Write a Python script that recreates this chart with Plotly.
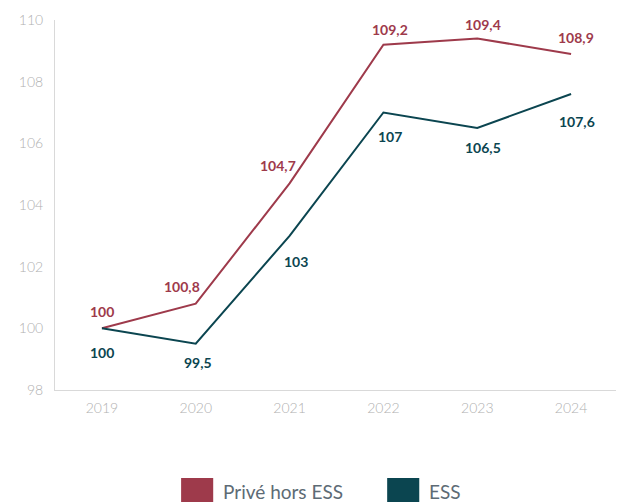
import plotly.graph_objects as go

years = ["2019", "2020", "2021", "2022", "2023", "2024"]
prive = [100, 100.8, 104.7, 109.2, 109.4, 108.9]
ess = [100, 99.5, 103, 107, 106.5, 107.6]
series_names = ["Privé hors ESS", "ESS"]

red = "#9e3a4b"
teal = "#0b4550"

# label offsets in px (style only)
prive_dx = [0, -14, -12, 7, 6, 5]
prive_dy = [17, 17, 18, 15, 14, 16]
ess_dx = [0, 2, 6, 7, 6, 6]
ess_dy = [-24, -19, -26, -24, -20, -27]


def fr(v):
    # French decimal comma
    return f"{v:g}".replace(".", ",")


fig = go.Figure()

for vals, col, name, dxs, dys in [(prive, red, series_names[0], prive_dx, prive_dy),
                                  (ess, teal, series_names[1], ess_dx, ess_dy)]:
    fig.add_trace(go.Scatter(x=years, y=vals, mode="lines", name=name,
                             line=dict(color=col, width=2), showlegend=False))
    # category index for annotation x (string years would be read as numbers)
    for i, (v, dx, dy) in enumerate(zip(vals, dxs, dys)):
        fig.add_annotation(x=i, y=v, xref="x", yref="y", text=fr(v), showarrow=False,
                           xshift=dx, yshift=dy,
                           font=dict(family="Lato", size=14, color=col, weight="bold"))

# legend drawn by hand (big square swatches)
legend_x = [0.224, 0.590]
for name, col, lx in zip(series_names, [red, teal], legend_x):
    fig.add_shape(type="rect", xref="paper", yref="paper",
                  x0=lx, x1=lx + 0.057, y0=-0.303, y1=-0.238,
                  fillcolor=col, line_width=0)
    fig.add_annotation(xref="paper", yref="paper", x=lx + 0.071, y=-0.273,
                       text=name, showarrow=False, xanchor="left", yanchor="middle",
                       font=dict(family="Lato", size=19, color="#5d6b75"))

# page body has an 8px margin, so the figure is shrunk/shifted to compensate
fig.update_layout(
    width=616, height=495,
    margin=dict(l=47, r=6, t=12, b=113),
    plot_bgcolor="white", paper_bgcolor="white",
    font=dict(family="Lato"),
    xaxis=dict(type="category", range=[-0.5, 5.5], showline=True, linecolor="#d9d9d9",
               linewidth=1, showgrid=False, ticks="", automargin=False,
               ticklabelstandoff=5,
               tickfont=dict(family="Lato", size=14, color="#b0b0b0", weight=300)),
    yaxis=dict(range=[98, 110], dtick=2, showline=True, linecolor="#d9d9d9",
               linewidth=1, showgrid=False, zeroline=False, ticks="", automargin=False,
               ticklabelstandoff=8,
               tickfont=dict(family="Lato", size=14, color="#b0b0b0", weight=300)),
)

fig.write_html("out.html")
